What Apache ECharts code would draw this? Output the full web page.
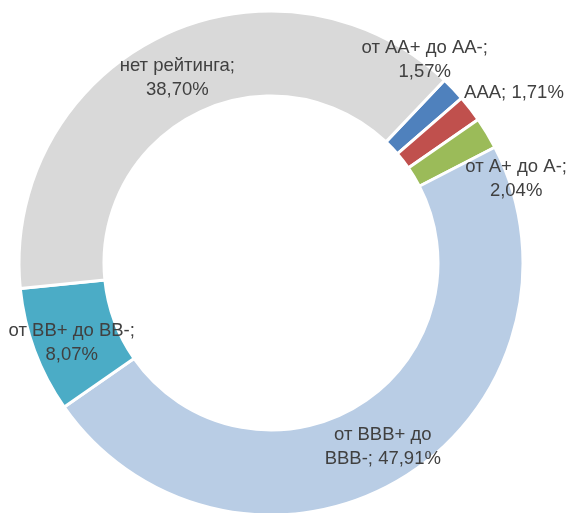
<!DOCTYPE html>
<html>
<head>
    <meta charset="utf-8">
    <script src="https://cdn.jsdelivr.net/npm/echarts@6/dist/echarts.min.js"></script>
    <style>
        html, body { margin: 0; padding: 0; background: #fff; }
    </style>
</head>
<body>
<div id="main" style="width: 569px;height:513px;"></div>
<script type="text/javascript">
    // категории и доли (в %)
    var categories = ['от АА+ до АА-', 'ААА', 'от А+ до А-', 'от BBB+ до BBB-', 'от BB+ до BB-', 'нет рейтинга'];
    var shares = [1.57, 1.71, 2.04, 47.91, 8.07, 38.70];
    // как подписи переносятся на строки
    var labelLines = [
        ['от АА+ до АА-;', '{v}'],
        ['ААА; {v}'],
        ['от А+ до А-;', '{v}'],
        ['от BBB+ до', 'BBB-; {v}'],
        ['от BB+ до BB-;', '{v}'],
        ['нет рейтинга;', '{v}']
    ];

    var colors = ['#4F81BD', '#C0504D', '#9BBB59', '#B9CDE5', '#4BACC6', '#D9D9D9'];
    // сдвиг подписей от середины сектора
    var labelOffsets = [[0, -56], [75, -40], [63, 25], [2, 2], [0, 6], [0, 6]];

    function fmt(v) {
        return v.toFixed(2).replace('.', ',') + '%';
    }

    var pieData = [];
    for (var i = 0; i < categories.length; i++) {
        pieData.push({
            name: categories[i],
            value: shares[i],
            itemStyle: {color: colors[i]},
            label: {offset: labelOffsets[i]}
        });
    }

    var myChart = echarts.init(document.getElementById('main'));
    myChart.setOption({
        animation: false,
        series: [{
            type: 'pie',
            center: [271, 263],
            radius: [167, 252],
            startAngle: 46.5,
            clockwise: true,
            avoidLabelOverlap: false,
            labelLayout: {hideOverlap: false},
            itemStyle: {
                borderColor: '#fff',
                borderWidth: 3
            },
            label: {
                show: true,
                position: 'inside',
                fontFamily: 'Liberation Sans',
                fontSize: 18.5,
                lineHeight: 24,
                color: '#404040',
                align: 'center',
                formatter: function (p) {
                    return labelLines[p.dataIndex].join('\n').replace('{v}', fmt(p.value));
                }
            },
            labelLine: {show: false},
            emphasis: {disabled: true},
            data: pieData
        }]
    });
</script>
</body>
</html>
